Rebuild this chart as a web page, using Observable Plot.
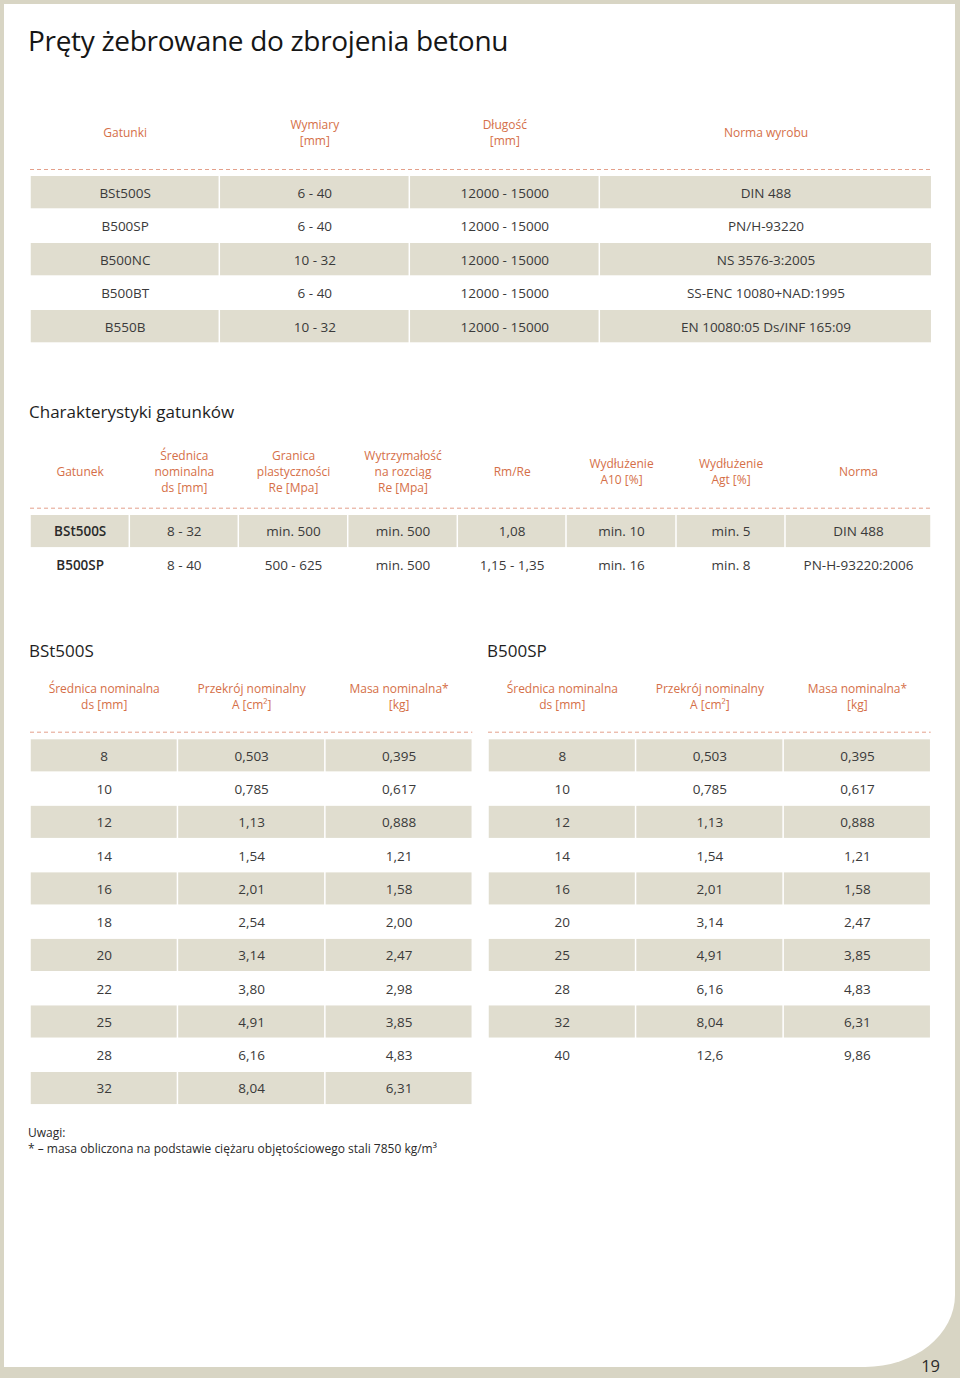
<!DOCTYPE html>
<html lang="pl">
<head>
<meta charset="utf-8">
<title>Pręty żebrowane do zbrojenia betonu</title>
<script src="https://cdn.jsdelivr.net/npm/d3@7"></script>
<script src="https://cdn.jsdelivr.net/npm/@observablehq/plot@0.6"></script>
<style>
  html, body { margin:0; padding:0; background:#d8d5c4; }
  #page { position:relative; width:960px; height:1378px; overflow:hidden; background:#d8d5c4; font-family:"Open Sans", sans-serif; }
  #sheet { position:absolute; left:4px; top:4px; width:951px; height:1363px; background:#fff; border-bottom-right-radius:90px 72px; }
  .t { position:absolute; white-space:nowrap; line-height:1; margin:0; font-weight:400; }
  .blk { position:absolute; }
  .blk svg { display:block; }
</style>
</head>
<body>
<div id="page"><div id="sheet"></div></div>
<script>
// ---------------- DATA ----------------
// Table 1: grades
const gradesHeader = ["Gatunki", "Wymiary\n[mm]", "Długość\n[mm]", "Norma wyrobu"];
const grades = ["BSt500S", "B500SP", "B500NC", "B500BT", "B550B"];
const gradeDimensions = ["6 - 40", "6 - 40", "10 - 32", "6 - 40", "10 - 32"];
const gradeLengths = ["12000 - 15000", "12000 - 15000", "12000 - 15000", "12000 - 15000", "12000 - 15000"];
const gradeNorms = ["DIN 488", "PN/H-93220", "NS 3576-3:2005", "SS-ENC 10080+NAD:1995", "EN 10080:05 Ds/INF 165:09"];

// Table 2: characteristics
const charHeader = ["Gatunek", "Średnica\nnominalna\nds [mm]", "Granica\nplastyczności\nRe [Mpa]", "Wytrzymałość\nna rozciąg\nRe [Mpa]", "Rm/Re", "Wydłużenie\nA10 [%]", "Wydłużenie\nAgt [%]", "Norma"];
const charGrades = ["BSt500S", "B500SP"];
const charDiameter = ["8 - 32", "8 - 40"];
const charYield = ["min. 500", "500 - 625"];
const charTensile = ["min. 500", "min. 500"];
const charRatio = ["1,08", "1,15 - 1,35"];
const charA10 = ["min. 10", "min. 16"];
const charAgt = ["min. 5", "min. 8"];
const charNorm = ["DIN 488", "PN-H-93220:2006"];

// Table 3: nominal sizes
const massHeader = ["Średnica nominalna\nds [mm]", "Przekrój nominalny\nA [cm²]", "Masa nominalna*\n[kg]"];
const bst500sDiameter = [8, 10, 12, 14, 16, 18, 20, 22, 25, 28, 32];
const bst500sArea = [0.503, 0.785, 1.13, 1.54, 2.01, 2.54, 3.14, 3.80, 4.91, 6.16, 8.04];
const bst500sMass = [0.395, 0.617, 0.888, 1.21, 1.58, 2.00, 2.47, 2.98, 3.85, 4.83, 6.31];
const b500spDiameter = [8, 10, 12, 14, 16, 20, 25, 28, 32, 40];
const b500spArea = [0.503, 0.785, 1.13, 1.54, 2.01, 3.14, 4.91, 6.16, 8.04, 12.6];
const b500spMass = [0.395, 0.617, 0.888, 1.21, 1.58, 2.47, 3.85, 4.83, 6.31, 9.86];

// ---------------- STYLE / LAYOUT ----------------
const FONT = "'Open Sans', sans-serif";
const ORANGE = "#d56f48";
const DASH = "#e4a08b";
const SHADE = "#e0ddcf";
const INK = "#3a3a3a";
const CELL_SIZE = 13.5;
const HEAD_SIZE = 12;
const fmt3 = d3.formatLocale({decimal: ",", thousands: " ", grouping: [3], currency: ["", ""]}).format(".3r");

const page = document.getElementById("page");

function label(text, {x, baseline, size, color = "#1e1e1e", align = "left", spacing = 0}) {
  const d = document.createElement("div");
  d.className = "t";
  d.style.fontSize = size + "px";
  d.style.color = color;
  d.style.letterSpacing = spacing + "px";
  d.style.top = (baseline - 0.888 * size) + "px";
  if (align === "right") d.style.right = (960 - x) + "px"; else d.style.left = x + "px";
  d.textContent = text;
  page.appendChild(d);
  return d;
}

function table({left, top, width, xRange, weights, header, keys, columns, rowStep, marginTop, headerDy, ruleDy, boldFirst = false}) {
  const edges = Array.from(d3.cumsum([0, ...weights]));
  const total = edges[edges.length - 1];
  const cells = [];
  keys.forEach((key, r) => columns.forEach((col, c) => cells.push({key, r, c, text: col[r], x1: edges[c], x2: edges[c + 1]})));
  const heads = header.map((text, c) => ({text, x: (edges[c] + edges[c + 1]) / 2}));
  const mid = (d) => (d.x1 + d.x2) / 2;
  const height = marginTop + keys.length * rowStep;
  const chart = Plot.plot({
    width, height,
    marginTop, marginBottom: 0, marginLeft: 0, marginRight: 0,
    style: {background: "transparent", fontFamily: FONT},
    x: {domain: [0, total], range: xRange, axis: null},
    y: {type: "band", domain: keys, padding: 0, round: false, axis: null},
    marks: [
      Plot.barX(cells.filter((d) => d.r % 2 === 0), {
        x1: "x1", x2: "x2", y: "key", fill: SHADE,
        insetLeft: 0.75, insetRight: 0.75, insetBottom: 1.2
      }),
      Plot.ruleY([keys[0]], {
        x1: 0, x2: total, stroke: DASH, strokeWidth: 1, strokeDasharray: "4,3",
        dy: ruleDy - rowStep / 2
      }),
      Plot.text(heads, {
        x: "x", text: "text", frameAnchor: "top", dy: headerDy,
        lineAnchor: "middle", lineHeight: 16 / HEAD_SIZE, fontSize: HEAD_SIZE, fill: ORANGE
      }),
      Plot.text(cells.filter((d) => !(boldFirst && d.c === 0)), {
        x: mid, y: "key", text: "text", fontSize: CELL_SIZE, fill: INK
      }),
      Plot.text(cells.filter((d) => boldFirst && d.c === 0), {
        x: mid, y: "key", text: "text", fontSize: CELL_SIZE, fill: "#2a2a2a", fontWeight: 600
      })
    ]
  });
  const holder = document.createElement("div");
  holder.className = "blk";
  holder.style.left = left + "px";
  holder.style.top = top + "px";
  holder.style.width = width + "px";
  holder.appendChild(chart);
  page.appendChild(holder);
}

// ---------------- PAGE ----------------
label("Pręty żebrowane do zbrojenia betonu", {x: 28, baseline: 50.5, size: 28, color: "#161616", spacing: -0.3});

table({
  left: 0, top: 100, width: 960, xRange: [30, 931.7],
  weights: [189.3, 190, 190, 332.4],
  header: gradesHeader, keys: grades,
  columns: [grades, gradeDimensions, gradeLengths, gradeNorms],
  rowStep: 33.5, marginTop: 76, headerDy: -44.5, ruleDy: -7
});

label("Charakterystyki gatunków", {x: 29, baseline: 418.3, size: 17, color: "#1e1e1e"});

table({
  left: 0, top: 430, width: 960, xRange: [30, 931],
  weights: [99.3, 109, 109.4, 109.6, 108.7, 110, 109, 146],
  header: charHeader, keys: charGrades,
  columns: [charGrades, charDiameter, charYield, charTensile, charRatio, charA10, charAgt, charNorm],
  rowStep: 33.3, marginTop: 85, headerDy: -44.4, ruleDy: -7.3, boldFirst: true
});

label("BSt500S", {x: 29, baseline: 656.7, size: 17, color: "#1e1e1e"});
label("B500SP", {x: 487, baseline: 656.7, size: 17, color: "#1e1e1e"});

table({
  left: 0, top: 660, width: 480, xRange: [30, 472.3],
  weights: [1, 1, 1],
  header: massHeader, keys: bst500sDiameter,
  columns: [bst500sDiameter.map(String), bst500sArea.map(fmt3), bst500sMass.map(fmt3)],
  rowStep: 33.27, marginTop: 79.3, headerDy: -44.3, ruleDy: -7.6
});

table({
  left: 480, top: 660, width: 480, xRange: [8, 450.7],
  weights: [1, 1, 1],
  header: massHeader, keys: b500spDiameter,
  columns: [b500spDiameter.map(String), b500spArea.map(fmt3), b500spMass.map(fmt3)],
  rowStep: 33.27, marginTop: 79.3, headerDy: -44.3, ruleDy: -7.6
});

label("Uwagi:", {x: 28, baseline: 1137.5, size: 12, color: "#2a2a2a"});
label("* – masa obliczona na podstawie ciężaru objętościowego stali 7850 kg/m³", {x: 28, baseline: 1153.5, size: 12, color: "#2a2a2a"});

label("19", {x: 940, baseline: 1372.7, size: 16.5, color: "#2a2a2a", align: "right"});
</script>
</body>
</html>
